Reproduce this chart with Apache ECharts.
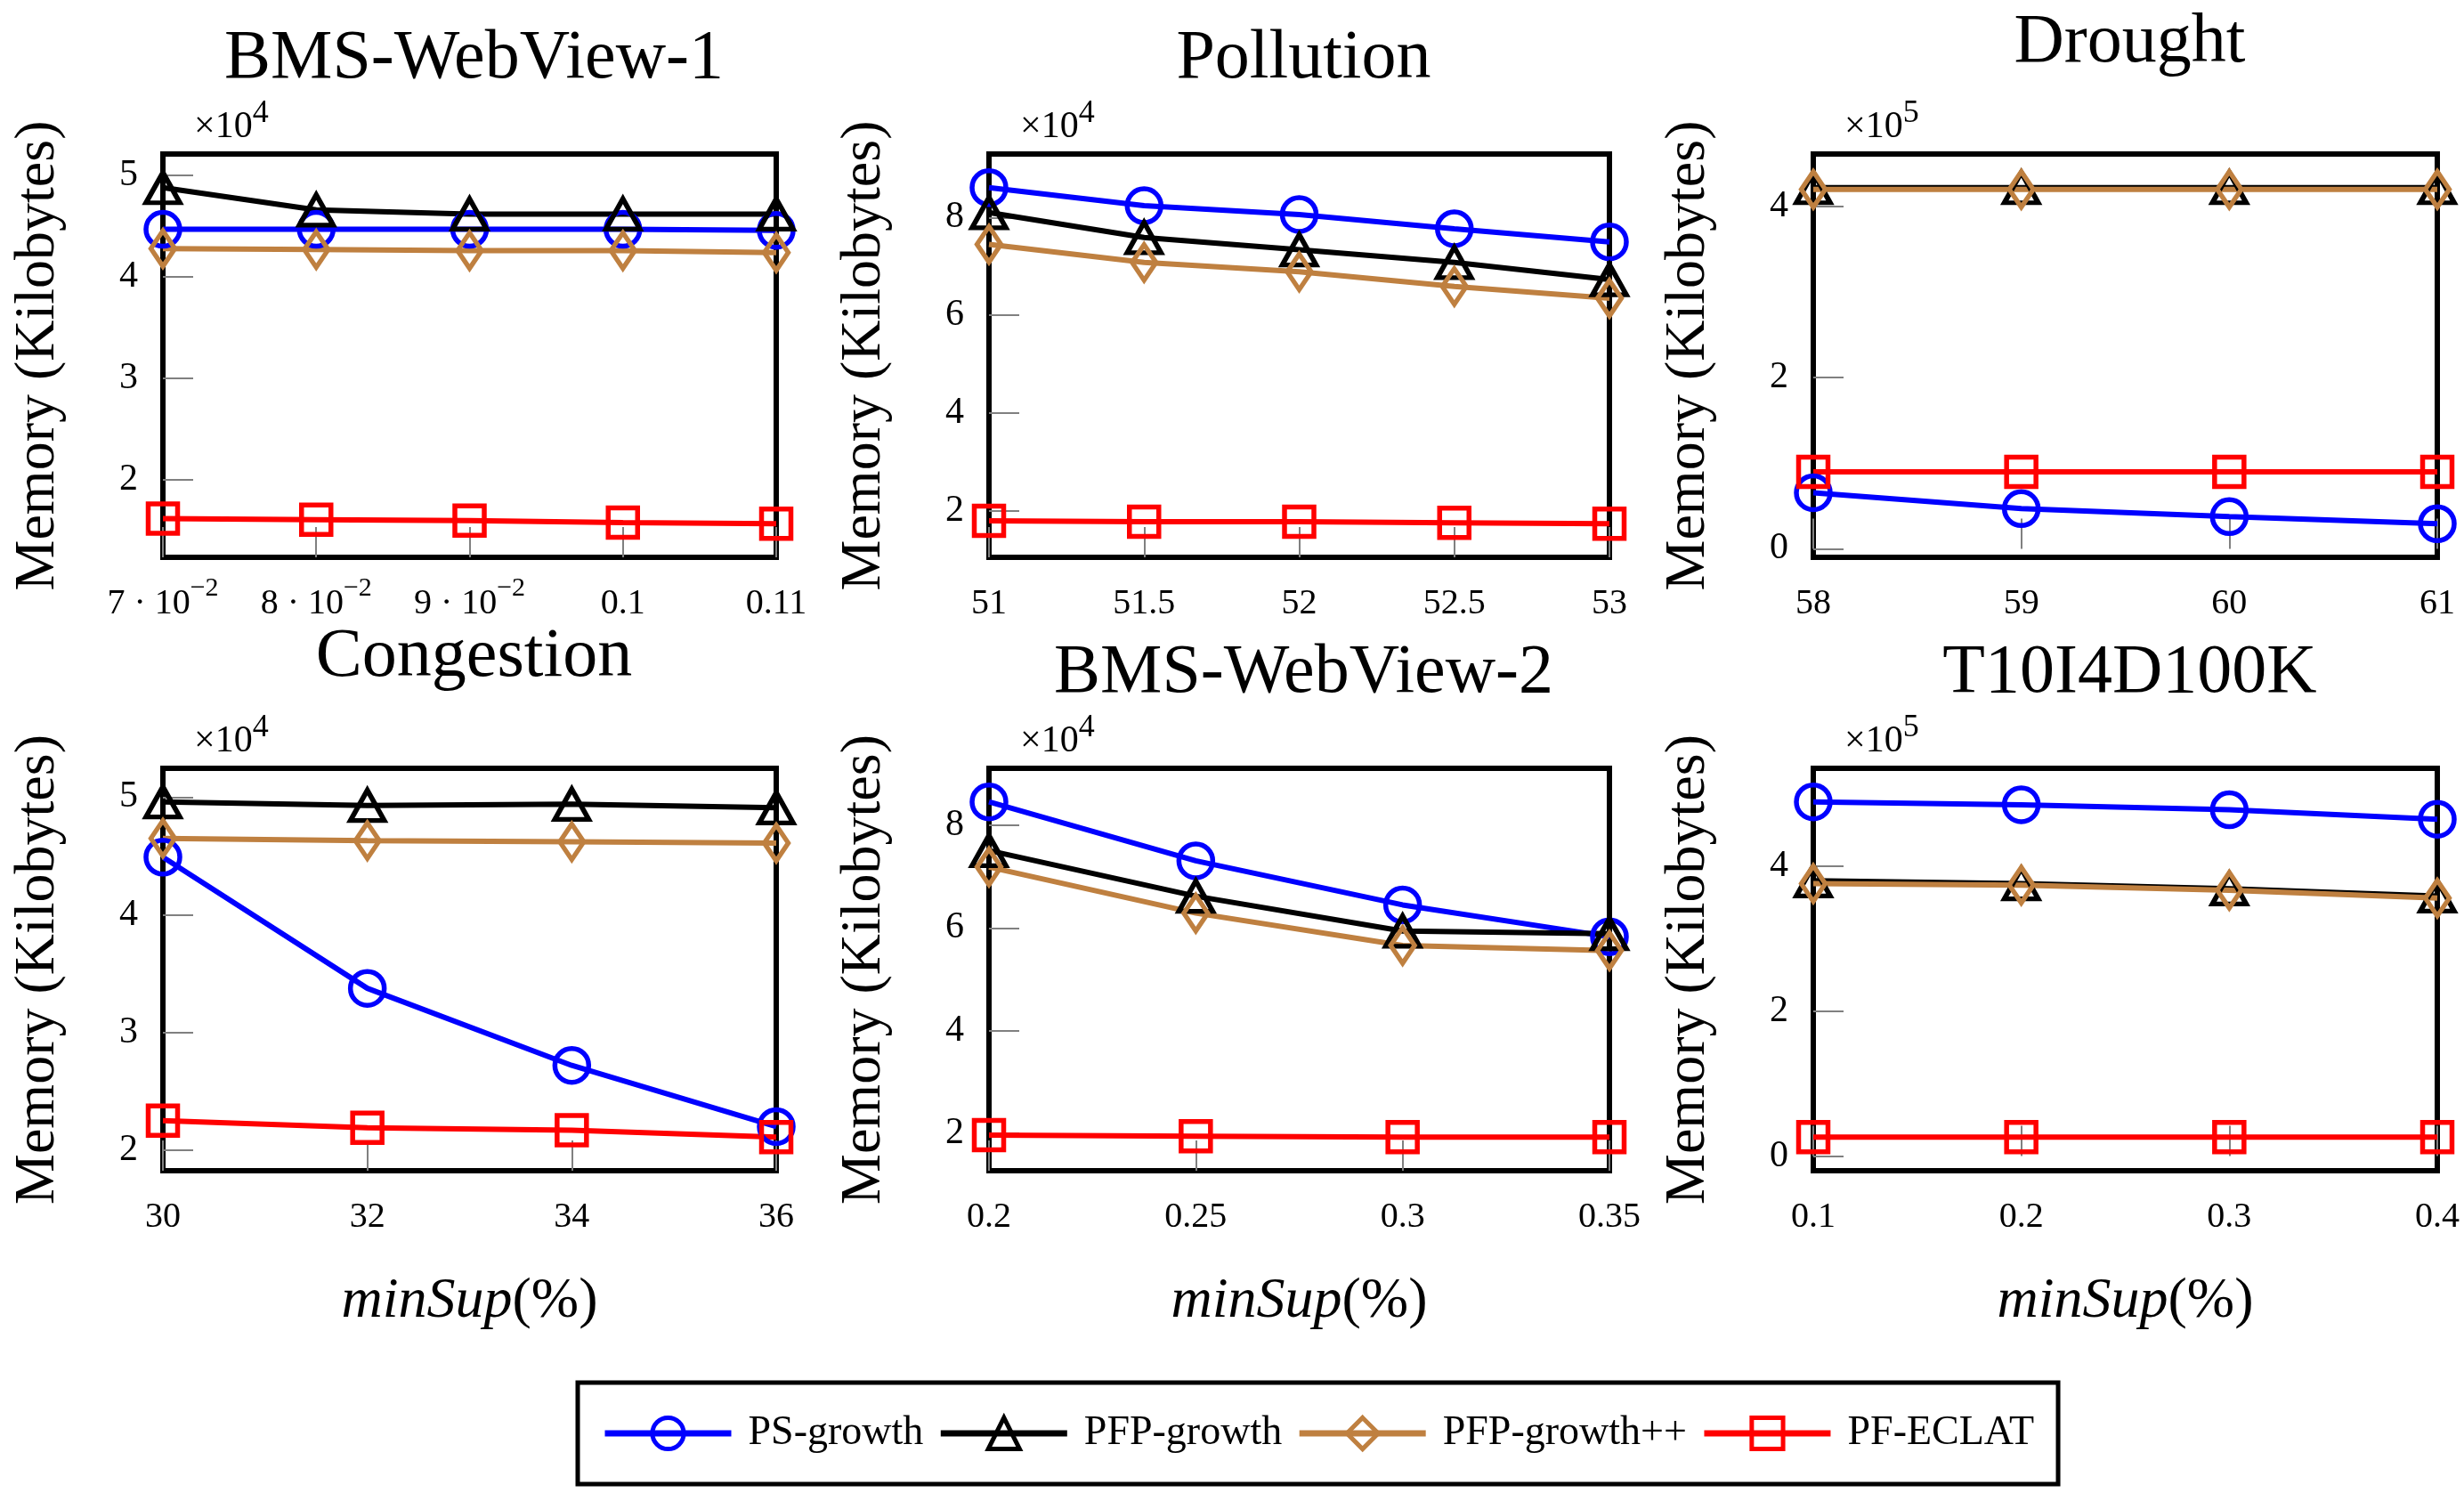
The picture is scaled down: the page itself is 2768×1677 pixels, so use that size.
<!DOCTYPE html>
<html>
<head>
<meta charset="utf-8">
<script src="https://cdn.jsdelivr.net/npm/echarts@6.0.0/dist/echarts.min.js"></script>
<style>
html, body { margin: 0; padding: 0; background: #fff; }
#chart { width: 2768px; height: 1677px; }
</style>
</head>
<body>
<div id="chart"></div>
<script>
const algorithms = ['PS-growth', 'PFP-growth', 'PFP-growth++', 'PF-ECLAT'];

// BMS-WebView-1 (memory in KB)
const bms1Sup = [0.07, 0.08, 0.09, 0.1, 0.11];
const bms1SupLabels = ['7 · 10^−2', '8 · 10^−2', '9 · 10^−2', '0.1', '0.11'];
const bms1PS = [44700, 44700, 44700, 44700, 44600];
const bms1PFP = [48800, 46600, 46200, 46200, 46200];
const bms1PFPpp = [42800, 42700, 42600, 42600, 42400];
const bms1ECLAT = [16200, 16100, 16000, 15800, 15700];
const bms1YTicks = [20000, 30000, 40000, 50000];

// Pollution
const pollSup = [51, 51.5, 52, 52.5, 53];
const pollSupLabels = ['51', '51.5', '52', '52.5', '53'];
const pollPS = [86100, 82400, 80600, 77700, 75000];
const pollPFP = [81000, 75900, 73400, 70800, 67300];
const pollPFPpp = [74500, 70800, 68900, 65900, 63500];
const pollECLAT = [18000, 17800, 17800, 17600, 17400];
const pollYTicks = [20000, 40000, 60000, 80000];

// Drought
const drSup = [58, 59, 60, 61];
const drSupLabels = ['58', '59', '60', '61'];
const drPS = [65500, 46900, 37600, 29300];
const drPFP = [422000, 422000, 422000, 422000];
const drPFPpp = [420000, 420000, 420000, 420000];
const drECLAT = [90000, 90000, 90000, 90000];
const drYTicks = [0, 200000, 400000];

// Congestion
const conSup = [30, 32, 34, 36];
const conSupLabels = ['30', '32', '34', '36'];
const conPS = [44900, 33750, 27200, 22000];
const conPFP = [49600, 49300, 49400, 49100];
const conPFPpp = [46500, 46300, 46200, 46100];
const conECLAT = [22500, 21900, 21700, 21100];
const conYTicks = [20000, 30000, 40000, 50000];

// BMS-WebView-2
const bms2Sup = [0.2, 0.25, 0.3, 0.35];
const bms2SupLabels = ['0.2', '0.25', '0.3', '0.35'];
const bms2PS = [84600, 73100, 64500, 58300];
const bms2PFP = [75100, 66200, 59400, 58900];
const bms2PFPpp = [71900, 62900, 56600, 55600];
const bms2ECLAT = [19600, 19400, 19200, 19200];
const bms2YTicks = [20000, 40000, 60000, 80000];

// T10I4D100K
const t10Sup = [0.1, 0.2, 0.3, 0.4];
const t10SupLabels = ['0.1', '0.2', '0.3', '0.4'];
const t10PS = [489000, 485000, 478000, 465000];
const t10PFP = [380000, 376000, 369000, 359000];
const t10PFPpp = [376000, 374000, 367000, 356000];
const t10ECLAT = [26000, 26000, 26000, 26000];
const t10YTicks = [0, 200000, 400000];

const panels = [
  { title: 'BMS-WebView-1', x: bms1Sup, xl: bms1SupLabels, y: [bms1PS, bms1PFP, bms1PFPpp, bms1ECLAT], yt: bms1YTicks, exp: 4 },
  { title: 'Pollution', x: pollSup, xl: pollSupLabels, y: [pollPS, pollPFP, pollPFPpp, pollECLAT], yt: pollYTicks, exp: 4 },
  { title: 'Drought', x: drSup, xl: drSupLabels, y: [drPS, drPFP, drPFPpp, drECLAT], yt: drYTicks, exp: 5 },
  { title: 'Congestion', x: conSup, xl: conSupLabels, y: [conPS, conPFP, conPFPpp, conECLAT], yt: conYTicks, exp: 4 },
  { title: 'BMS-WebView-2', x: bms2Sup, xl: bms2SupLabels, y: [bms2PS, bms2PFP, bms2PFPpp, bms2ECLAT], yt: bms2YTicks, exp: 4 },
  { title: 'T10I4D100K', x: t10Sup, xl: t10SupLabels, y: [t10PS, t10PFP, t10PFPpp, t10ECLAT], yt: t10YTicks, exp: 5 }
];

const colors = ['#0000ff', '#000000', '#bf8040', '#ff0000'];
const symbols = ['circle', 'triangle', 'diamond', 'rect'];
const symbolSizes = [38, [38, 34], [27, 40], 33];

const font = "'Liberation Serif', 'DejaVu Serif', serif";
const colLeft = [183, 1111, 2037];
const colWidth = [689, 697, 701];
const rowTop = [173, 863];
const rowHeight = [453, 452];
const titleMid = [[67, 67, 49], [739, 757, 757]];

const supRich = {
  b: { fontFamily: font, fontSize: 40, color: '#000', lineHeight: 52, verticalAlign: 'bottom' },
  s: { fontFamily: font, fontSize: 30, color: '#000', lineHeight: 30, verticalAlign: 'top' }
};
function toRich(t) {
  const k = t.indexOf('^');
  if (k < 0) return '{b|' + t + '}';
  return '{b|' + t.slice(0, k) + '}{s|' + t.slice(k + 1) + '}';
}

const chart = echarts.init(document.getElementById('chart'));
const title = [], grid = [], xAxis = [], yAxis = [], series = [];

panels.forEach(function (p, i) {
  const col = i % 3, row = Math.floor(i / 3);
  const left = colLeft[col], top = rowTop[row];
  const all = [].concat.apply([], p.y);
  const lo = Math.min.apply(null, all), hi = Math.max.apply(null, all);
  const pad = (hi - lo) * 0.1;
  const scale = Math.pow(10, p.exp);

  title.push({
    text: p.title, left: left + colWidth[col] / 2, top: titleMid[row][col] - 44, textAlign: 'center',
    textStyle: { fontFamily: font, fontSize: 78, fontWeight: 'normal', color: '#000' }
  });
  title.push({
    text: '{b|×10}{s|' + p.exp + '}', left: left + 30, top: top - 68,
    textStyle: { fontWeight: 'normal', rich: {
      b: { fontFamily: font, fontSize: 42, fontWeight: 'normal', color: '#000', lineHeight: 54, verticalAlign: 'bottom' },
      s: { fontFamily: font, fontSize: 36, fontWeight: 'normal', color: '#000', lineHeight: 36, verticalAlign: 'top' }
    } }
  });

  grid.push({
    left: left, top: top, width: colWidth[col], height: rowHeight[row],
    show: true, borderColor: '#000', borderWidth: 6, backgroundColor: 'transparent',
    containLabel: false, outerBoundsMode: 'none'
  });

  xAxis.push({
    type: 'value', gridIndex: i, min: p.x[0], max: p.x[p.x.length - 1],
    axisLine: { show: false }, splitLine: { show: false },
    axisTick: { show: true, inside: true, length: 34, customValues: p.x, lineStyle: { color: '#808080', width: 2 } },
    axisLabel: {
      customValues: p.x, margin: 20, showMinLabel: true, showMaxLabel: true, hideOverlap: false,
      formatter: function (v) {
        let best = 0;
        p.x.forEach(function (xv, j) { if (Math.abs(xv - v) < Math.abs(p.x[best] - v)) best = j; });
        return toRich(p.xl[best]);
      },
      rich: supRich
    },
    name: row === 1 ? '{i|minSup}{n|(%)}' : '',
    nameLocation: 'middle', nameGap: 115,
    nameTextStyle: { rich: {
      i: { fontFamily: font, fontSize: 64, fontStyle: 'italic', color: '#000' },
      n: { fontFamily: font, fontSize: 64, color: '#000' }
    } }
  });

  yAxis.push({
    type: 'value', gridIndex: i, min: lo - pad, max: hi + pad,
    axisLine: { show: false }, splitLine: { show: false },
    axisTick: { show: true, inside: true, length: 34, customValues: p.yt, lineStyle: { color: '#808080', width: 2 } },
    axisLabel: {
      customValues: p.yt, margin: 28, showMinLabel: true, showMaxLabel: true,
      fontFamily: font, fontSize: 42, color: '#000',
      formatter: function (v) { return String(Math.round(v / scale)); }
    },
    name: 'Memory (Kilobytes)', nameLocation: 'middle', nameRotate: 90, nameGap: 108,
    nameTextStyle: { fontFamily: font, fontSize: 64, color: '#000' }
  });

  p.y.forEach(function (vals, k) {
    series.push({
      name: algorithms[k], type: 'line', xAxisIndex: i, yAxisIndex: i,
      data: p.x.map(function (xv, j) { return [xv, vals[j]]; }),
      symbol: symbols[k], symbolSize: symbolSizes[k], showAllSymbol: true, clip: false,
      lineStyle: { color: colors[k], width: 6 },
      itemStyle: { color: 'rgba(255,255,255,0)', borderColor: colors[k], borderWidth: 5.5 },
      emphasis: { disabled: true }, animation: false
    });
  });
});

chart.setOption({
  backgroundColor: '#fff',
  animation: false,
  title: title,
  grid: grid,
  xAxis: xAxis,
  yAxis: yAxis,
  series: series,
  legend: {
    data: algorithms, orient: 'horizontal', left: 649, top: 1553,
    itemWidth: 142, itemHeight: 44, itemGap: 16,
    padding: [34, 27], borderColor: '#000', borderWidth: 5, backgroundColor: '#fff',
    lineStyle: { width: 7 },
    itemStyle: { borderWidth: 5 },
    textStyle: { fontFamily: font, fontSize: 46, color: '#000', padding: [0, 0, 0, 14] }
  }
});
</script>
</body>
</html>
